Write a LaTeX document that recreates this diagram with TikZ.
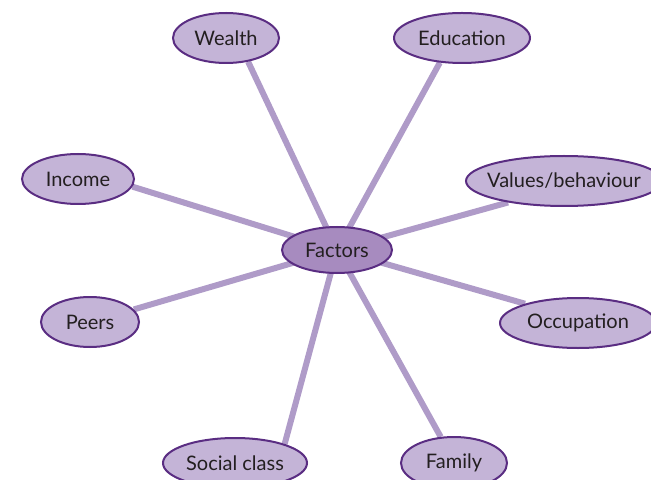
\documentclass[tikz,border=0pt]{standalone}
\usepackage{fontspec}
\setmainfont{Lato}
\usepackage{tikz}
\usetikzlibrary{shapes.geometric,backgrounds}
\definecolor{rim}{HTML}{5A2D82}
\definecolor{petal}{HTML}{C4B4D7}
\definecolor{core}{HTML}{A78BBF}
\definecolor{stem}{HTML}{AF9BC8}
\definecolor{ink}{HTML}{231F20}
\tikzstyle{factor} = [ellipse, draw=rim, fill=petal, line width=1pt, inner sep=0pt, text=ink, font=\fontsize{10}{12}\selectfont]
\tikzstyle{hub} = [ellipse, draw=rim, fill=core, line width=1pt, inner sep=0pt, text=ink, font=\fontsize{10}{12}\selectfont, minimum width=55pt, minimum height=23pt]
\tikzstyle{spoke} = [stem, line width=3pt]

\begin{document}
\begin{tikzpicture}[x=0.5pt, y=-0.5pt]
    \clip (0,0) rectangle (651,480);
    \useasboundingbox (0,0) rectangle (651,480);

    \node (factors) [hub] at (337,250) {Factors};
    \node (wealth) [factor, minimum width=53pt, minimum height=25pt] at (226,38) {Wealth};
    \node (education) [factor, minimum width=68pt, minimum height=25pt] at (462,38) {Education};
    \node (income) [factor, minimum width=56pt, minimum height=25pt] at (78,179) {Income};
    \node (values) [factor, inner xsep=-4pt, minimum width=98pt, minimum height=25pt] at (564,181) {Values/behaviour};
    \node (peers) [factor, minimum width=49pt, minimum height=25pt] at (90,322) {Peers};
    \node (occupation) [factor, minimum width=78pt, minimum height=25pt] at (578,323) {Occupation};
    \node (social) [factor, minimum width=72pt, minimum height=25pt] at (235,463) {Social class};
    \node (family) [factor, minimum width=53pt, minimum height=26pt] at (454,463) {Family};

    \begin{scope}[on background layer]
    \draw [spoke] (factors.center)--(wealth.-47);
    \draw [spoke] (factors.center)--(education.-132);
    \draw [spoke] (factors.center)--(income.-8);
    \draw [spoke] (factors.center)--(values.-159);
    \draw [spoke] (factors.center)--(peers.16);
    \draw [spoke] (factors.center)--(occupation.160);
    \draw [spoke] (factors.center)--(social.21);
    \draw [spoke] (factors.center)--(family.117);
    \end{scope}

\end{tikzpicture}
\end{document}
